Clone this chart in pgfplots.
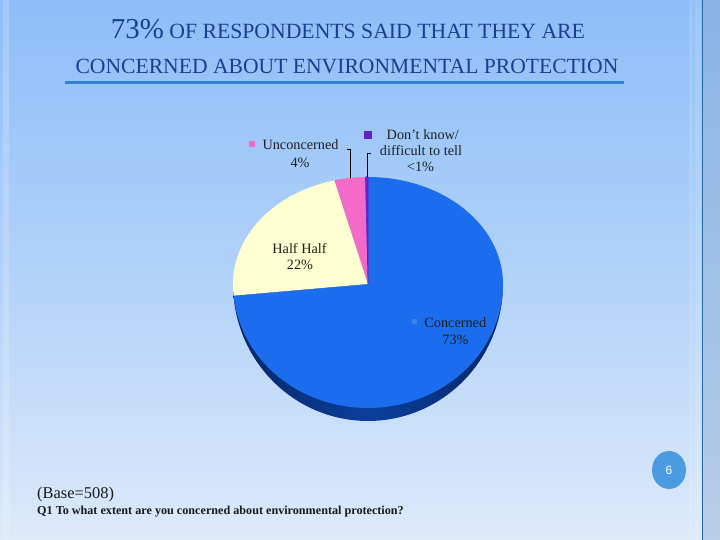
\documentclass[border=0pt]{standalone}
\usepackage{pgfplots}
\pgfplotsset{compat=1.18}
\usepackage{pgfplotstable}
\usepackage{fontspec}
\setmainfont{Liberation Serif}
\newfontfamily\arialfont{Liberation Sans}
\definecolor{bgtop}{HTML}{8DBEF8}
\definecolor{bgbot}{HTML}{DDEAFA}
\definecolor{titlec}{HTML}{1B3F8F}
\definecolor{rulec}{HTML}{2C84D2}
\definecolor{cblue}{HTML}{1B6DEE}
\definecolor{cside}{HTML}{0B3F9C}
\definecolor{csidedark}{HTML}{052868}
\definecolor{chalf}{HTML}{FFFFD2}
\definecolor{cpink}{HTML}{F46AC9}
\definecolor{cpurple}{HTML}{6420CC}
\definecolor{pagec}{HTML}{4A9BE2}

\pgfplotstableread{
label       value
Concerned   73.5
HalfHalf    22.5
Unconcerned 3.7
DontKnow    0.3
}\piedata

\begin{document}%
\begin{tikzpicture}[x=1bp,y=1bp]
\pgfplotstablegetelem{0}{value}\of{\piedata}\let\vA\pgfplotsretval
\pgfplotstablegetelem{1}{value}\of{\piedata}\let\vB\pgfplotsretval
\pgfplotstablegetelem{2}{value}\of{\piedata}\let\vC\pgfplotsretval
\pgfplotstablegetelem{3}{value}\of{\piedata}\let\vD\pgfplotsretval
\pgfmathsetmacro\aA{90-3.6*\vA}
\pgfmathsetmacro\aB{\aA-3.6*\vB}
\pgfmathsetmacro\aC{\aB-3.6*\vC}
\pgfmathsetmacro\aD{\aC-3.6*\vD}
\useasboundingbox (0,0) rectangle (720,540);
% background
\shade[top color=bgtop, bottom color=bgbot, middle color=bgtop!55!bgbot] (0,0) rectangle (720,540);
\fill[white, opacity=0.18] (3,0) rectangle (9,540);
\fill[white, opacity=0.12] (689,0) rectangle (693,540);
\fill[white, opacity=0.15] (695,0) rectangle (701,540);
\fill[white, opacity=0.10] (703,0) rectangle (720,540);
\fill[black!20!bgtop, opacity=0.35] (703,0) rectangle (720,540);
\draw[color=rulec!80!black, line width=0.8bp] (702,0) -- (702,540);

% title
\node[anchor=base, text=titlec, inner sep=0pt] at (348,501.7)
  {\fontsize{29}{30}\selectfont 73\%\fontsize{21.8}{24}\selectfont{} OF RESPONDENTS SAID THAT THEY ARE};
\node[anchor=base, text=titlec, inner sep=0pt] at (347,466)
  {\fontsize{21.7}{24}\selectfont CONCERNED ABOUT ENVIRONMENTAL PROTECTION};
\draw[rulec, line width=3bp] (65,457.5) -- (624,457.5);

% pie
\begin{axis}[x=1bp, y=1bp, hide axis, clip=false,
  xmin=-140, xmax=140, ymin=-140, ymax=112,
  anchor=origin, at={(368,256)}]
  % side
  \addplot[draw=none, left color=csidedark, right color=csidedark, middle color=cside,
    domain=180:360, samples=120] ({135*cos(x)},{137*sin(x)}) -- cycle;
  % faces
  \addplot[fill=cblue, draw=none, domain=\aA:90, samples=160]
    ({135*cos(x)},{sin(x)*((sin(x)>0)?107:124)}) -- (axis cs:0,0) -- cycle;
  \addplot[fill=chalf, draw=none, domain=\aB:\aA, samples=80]
    ({135*cos(x)},{sin(x)*((sin(x)>0)?107:124)}) -- (axis cs:0,0) -- cycle;
  \addplot[fill=cpink, draw=none, domain=\aC:\aB, samples=30]
    ({135*cos(x)},{sin(x)*((sin(x)>0)?107:124)}) -- (axis cs:0,0) -- cycle;
  \addplot[fill=cpurple, draw=cpurple, line width=0.6bp, domain=\aD:\aC, samples=5]
    ({135*cos(x)},{sin(x)*((sin(x)>0)?107:124)}) -- (axis cs:0,0) -- cycle;
\end{axis}

% leader lines
\draw[black, line width=0.8bp] (346.7,390.7) -- (350,390.7) -- (350,362);
\draw[black, line width=0.8bp] (371,387) -- (367,387) -- (367,363);

% labels
\fill[cpink] (248.5,392.5) rectangle (255,399);
\fill[cpurple] (363.5,400.5) rectangle (372,409);
\fill[cblue!85!white] (411.5,215.5) rectangle (417,221);
\begin{scope}[every node/.style={inner sep=0pt, text=black!88, font=\fontsize{14.3}{15}\selectfont}]
\node at (300.5,395) {Unconcerned};
\node at (300,377.3) {4\%};
\node at (422.8,405) {Don{\char"0027}t know/};
\node at (421,389.3) {difficult to tell};
\node at (420.5,373.3) {<1\%};
\node at (299.5,291.7) {Half Half};
\node at (300,275) {22\%};
\node at (455.3,217.3) {Concerned};
\node at (455.5,200) {73\%};
\end{scope}

% footer
\node[anchor=base west, inner sep=0pt, text=black!90] at (37,41)
  {\fontsize{16.5}{17}\selectfont (Base=508)};
\node[anchor=base west, inner sep=0pt, text=black!90] at (37,25)
  {\fontsize{12.2}{13}\selectfont\bfseries Q1 To what extent are you concerned about environmental protection?};
\fill[pagec] (669,70) ellipse [x radius=17, y radius=19];
\node[text=white, inner sep=0pt] at (669,70) {\arialfont\fontsize{12}{13}\selectfont 6};
\end{tikzpicture}%
\end{document}
